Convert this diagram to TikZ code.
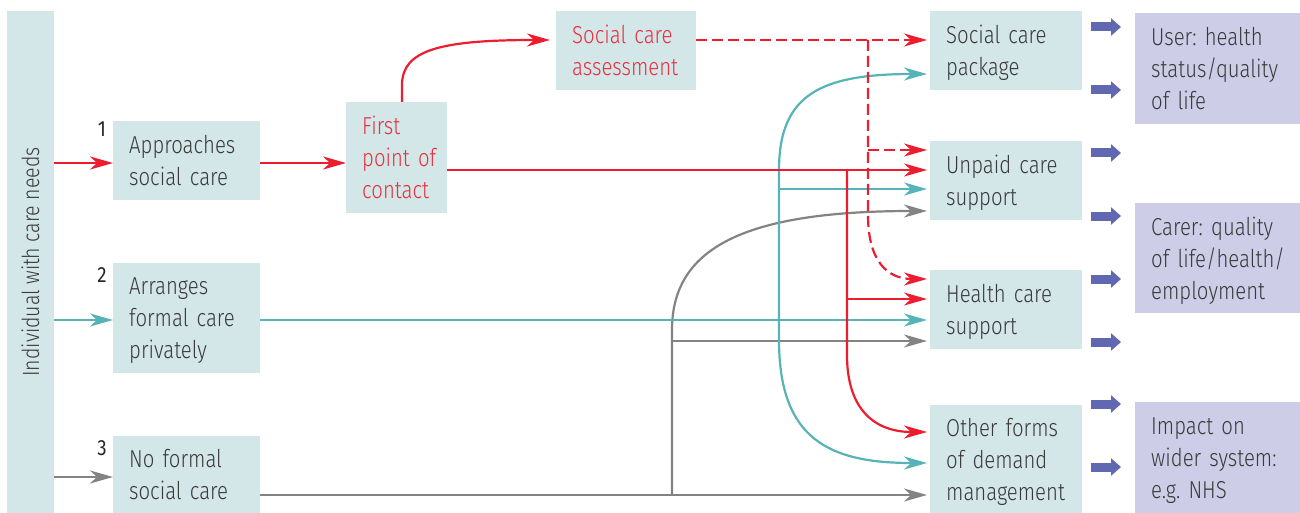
\documentclass[tikz,border=0pt]{standalone}
\usepackage{fontspec}
\setmainfont{Fira Sans Light}[FakeStretch=0.83]
\newfontfamily\numfont{Fira Sans}[FakeStretch=0.85]
\usetikzlibrary{arrows.meta}
\frenchspacing
% last line of a box: ignore its descenders when the text is centred
\newcommand\nodescent[1]{\raisebox{0pt}[\height][0pt]{#1}}

\definecolor{boxfill}{HTML}{D3E6E8}
\definecolor{outfill}{HTML}{CDCDE7}
\definecolor{cred}{HTML}{ED1C2E}
\definecolor{cteal}{HTML}{56B3B8}
\definecolor{cgray}{HTML}{858382}
\definecolor{cblue}{HTML}{5F68B1}
\definecolor{ink}{HTML}{3A3A3A}
\definecolor{redink}{HTML}{E8303F}

\begin{document}
\begin{tikzpicture}[x=1pt,y=-1pt,
  txt/.style={font=\fontsize{24.5}{32}\selectfont\frenchspacing, text=ink},
  stage/.style={txt, fill=boxfill, inner xsep=16pt, inner ysep=0pt,
    anchor=north west, align=left},
  outcome/.style={stage, fill=outfill},
  numlab/.style={font=\numfont\fontsize{22}{26}\selectfont, text=black!85, anchor=base, inner sep=0pt},
  flow/.style={line width=2.2pt, -{Stealth[length=23pt,width=13pt,inset=7pt]}},
  redflow/.style={flow, cred},
  redplan/.style={redflow, dash pattern=on 11pt off 5pt},
  tealflow/.style={flow, cteal},
  grayflow/.style={flow, cgray},
  fat/.style={cblue, line width=9pt, -{Triangle[length=10pt,width=17pt]}}
]
\useasboundingbox (0,0) rectangle (1300,513);

% left bar with the rotated title
\node[fill=boxfill, minimum width=47pt, minimum height=502pt, inner sep=0pt] (bar) at (30.5,262) {};
\node[txt, rotate=90, font=\fontsize{23.5}{26}\selectfont] (barlabel) at (bar.center) {Individual with care needs};

% entry routes
\node[stage, minimum width=147pt, text width=115pt, minimum height=79pt] (appr) at (113,121) {Approaches\\\nodescent{social~care}};
\node[stage, minimum width=147pt, text width=115pt, minimum height=110pt] (arr) at (113,263) {Arranges\\formal~care\\\nodescent{privately}};
\node[stage, minimum width=147pt, text width=115pt, minimum height=77pt] (nof) at (113,436) {No~formal\\\nodescent{social~care}};
\node[numlab] (n1) at (102,137) {1};
\node[numlab] (n2) at (102,282) {2};
\node[numlab] (n3) at (102,455) {3};

% council route
\node[stage, text=redink, minimum width=101pt, text width=69pt, minimum height=111pt] (fpc) at (346,102) {First\\point~of\\\nodescent{contact}};
\node[stage, text=redink, minimum width=140pt, text width=108pt, minimum height=79pt] (sca) at (556,11) {Social~care\\\nodescent{assessment}};

% services
\node[stage, minimum width=152pt, text width=120pt, minimum height=79pt] (scp) at (930,11) {Social~care\\\nodescent{package}};
\node[stage, minimum width=152pt, text width=120pt, minimum height=79pt] (ucs) at (930,141) {Unpaid~care\\\nodescent{support}};
\node[stage, minimum width=152pt, text width=120pt, minimum height=79pt] (hcs) at (930,270) {Health~care\\\nodescent{support}};
\node[stage, minimum width=152pt, text width=120pt, minimum height=108pt] (ofd) at (930,405) {Other~forms\\of~demand\\\nodescent{management}};

% outcomes
\node[outcome, minimum width=165pt, text width=133pt, minimum height=111pt] (user) at (1135,13) {User:~health\\status/quality\\\nodescent{of~life}};
\node[outcome, minimum width=165pt, text width=133pt, minimum height=110pt] (carer) at (1135,203) {Carer:~quality\\of~life/health/\\\nodescent{employment}};
\node[outcome, minimum width=165pt, text width=133pt, minimum height=111pt] (impact) at (1135,402) {Impact~on\\wider~system:\\\nodescent{e.g.~NHS}};

% junction points
\coordinate (gj) at (672,495);
\coordinate (gb) at (672,341);
\coordinate (tj) at (779,320);
\coordinate (tb) at (779,189);
\coordinate (rj) at (847,170);
\coordinate (rb) at (847,299);
\coordinate (dj) at (868,40);
\coordinate (db) at (868,150);

% route 3 (grey)
\draw[grayflow] (bar.east |- 0,477) -- (nof.west |- 0,477);
\draw[grayflow, shorten >=3pt] (nof.east |- 0,495) -- (ofd.west |- 0,495);
\draw[grayflow, shorten >=3pt] (gj) -- (672,330) .. controls (672,250) and (740,211) .. (ucs.west |- 0,211);
\draw[grayflow, shorten >=3pt] (gb) -- (hcs.west |- 0,341);

% route 2 (teal)
\draw[tealflow] (bar.east |- 0,320) -- (arr.west |- 0,320);
\draw[tealflow, shorten >=3pt] (arr.east |- 0,320) -- (hcs.west |- 0,320);
\draw[tealflow, shorten >=3pt] (tj) -- (779,170) .. controls (779,95) and (820,74) .. (scp.west |- 0,74);
\draw[tealflow, shorten >=3pt] (tj) -- (779,340) .. controls (779,440) and (830,463) .. (ofd.west |- 0,463);
\draw[tealflow, shorten >=3pt] (tb) -- (ucs.west |- 0,189);

% route 1 (red)
\draw[redflow] (bar.east |- 0,163) -- (appr.west |- 0,163);
\draw[redflow] (appr.east |- 0,163) -- (fpc.west |- 0,163);
\draw[redflow, shorten >=6pt] (fpc.north -| 402,0) -- (402,85) .. controls (402,50) and (440,40) .. (sca.west |- 0,40);
\draw[redflow, shorten >=3pt] (fpc.east |- 0,170) -- (ucs.west |- 0,170);
\draw[redflow, shorten >=3pt] (rj) -- (847,355) .. controls (847,410) and (875,432) .. (ofd.west |- 0,432);
\draw[redflow, shorten >=3pt] (rb) -- (hcs.west |- 0,299);

% assessment outcomes (dashed)
\draw[redplan, shorten >=3pt] (sca.east |- 0,40) -- (scp.west |- 0,40);
\draw[redplan, shorten >=3pt] (dj) -- (868,215) .. controls (868,262) and (888,279) .. (hcs.west |- 0,279);
\draw[redplan, shorten >=3pt] (db) -- (ucs.west |- 0,150);

% outcome arrows
\foreach \yy in {27,90,153,216,279,342,404,467}
  \draw[fat] (1091,\yy) -- (1121,\yy);
\end{tikzpicture}
\end{document}
